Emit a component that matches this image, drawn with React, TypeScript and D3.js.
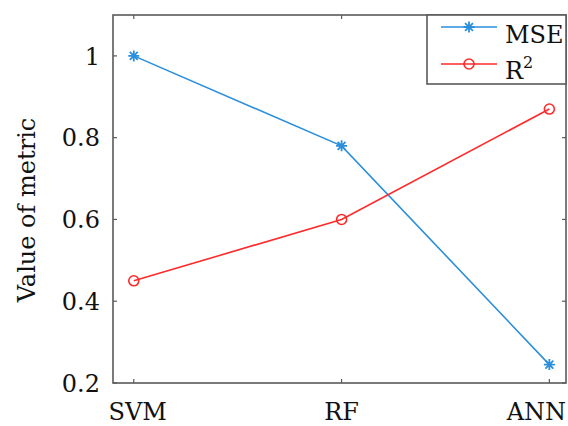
import React from "react";
import * as d3 from "d3";

const categories = ["SVM", "RF", "ANN"];
const mseValues = [1.0, 0.78, 0.245];
const r2Values = [0.45, 0.6, 0.87];
const yTicks = [0.2, 0.4, 0.6, 0.8, 1];
const yTickLabels = ["0.2", "0.4", "0.6", "0.8", "1"];

const W = 568;
const H = 426;
const left = 113;
const right = 566;
const top = 15;
const bottom = 383;
const FONT = '"DejaVu Serif", serif';
const BLUE = "#2b8fdc";
const RED = "#ff2a2a";
const AXIS = "#5a5a5a";

export default function App() {
  const x = d3.scaleLinear().domain([0.9, 3.08]).range([left, right]);
  const y = d3.scaleLinear().domain([0.2, 1.1]).range([bottom, top]);
  const line = d3
    .line<number>()
    .x((_, i) => x(i + 1))
    .y((d) => y(d));

  const star = (cx: number, cy: number, r: number) => {
    const d = r * 0.72;
    return `M${cx - r},${cy}L${cx + r},${cy}M${cx},${cy - r}L${cx},${cy + r}M${cx - d},${cy - d}L${cx + d},${cy + d}M${cx - d},${cy + d}L${cx + d},${cy - d}`;
  };

  const legX0 = 441;
  const legX1 = 497;
  const legMid = (legX0 + legX1) / 2;
  const legY1 = 27;
  const legY2 = 64;
  const fs = 24;

  return (
    <svg
      width={W}
      height={H}
      style={{ position: "absolute", left: 0, top: 0, background: "#fff", fontFamily: FONT }}
    >
      <rect x={0} y={0} width={W} height={H} fill="#fff" />
      <rect
        x={left}
        y={top}
        width={right - left}
        height={bottom - top}
        fill="none"
        stroke={AXIS}
        strokeWidth={1.6}
      />
      {yTicks.map((t, i) => (
        <g key={"yt" + i}>
          <line x1={left} x2={left + 4} y1={y(t)} y2={y(t)} stroke={AXIS} strokeWidth={1.2} />
          <line x1={right} x2={right - 4} y1={y(t)} y2={y(t)} stroke={AXIS} strokeWidth={1.2} />
          <text
            x={left - 13}
            y={y(t)}
            dy="0.36em"
            textAnchor="end"
            style={{ fontFamily: FONT, fontSize: fs }}
            fill="#111"
          >
            {yTickLabels[i]}
          </text>
        </g>
      ))}
      {categories.map((c, i) => (
        <g key={"xt" + i}>
          <line x1={x(i + 1)} x2={x(i + 1)} y1={bottom} y2={bottom - 4} stroke={AXIS} strokeWidth={1.2} />
          <line x1={x(i + 1)} x2={x(i + 1)} y1={top} y2={top + 4} stroke={AXIS} strokeWidth={1.2} />
          <text
            x={x(i + 1)}
            y={420}
            dx={i === categories.length - 1 ? -13 : i === 0 ? 4 : 0}
            textAnchor="middle"
            style={{ fontFamily: FONT, fontSize: fs }}
            fill="#111"
          >
            {c}
          </text>
        </g>
      ))}
      <text
        transform={`translate(35,210) rotate(-90)`}
        textAnchor="middle"
        style={{ fontFamily: FONT, fontSize: fs }}
        fill="#111"
      >
        Value of metric
      </text>
      <path d={line(mseValues) || ""} fill="none" stroke={BLUE} strokeWidth={1.6} />
      <path d={line(r2Values) || ""} fill="none" stroke={RED} strokeWidth={1.6} />
      {mseValues.map((v, i) => (
        <path key={"m" + i} d={star(x(i + 1), y(v), 5.5)} stroke={BLUE} strokeWidth={1.8} fill="none" />
      ))}
      {r2Values.map((v, i) => (
        <circle key={"r" + i} cx={x(i + 1)} cy={y(v)} r={5} stroke={RED} strokeWidth={1.6} fill="none" />
      ))}
      <rect x={427} y={top} width={right - 427} height={69} fill="#fff" stroke={AXIS} strokeWidth={1.6} />
      <line x1={legX0} x2={legX1} y1={legY1} y2={legY1} stroke={BLUE} strokeWidth={1.6} />
      <path d={star(legMid, legY1, 5.5)} stroke={BLUE} strokeWidth={1.8} fill="none" />
      <line x1={legX0} x2={legX1} y1={legY2} y2={legY2} stroke={RED} strokeWidth={1.6} />
      <circle cx={legMid} cy={legY2} r={5} stroke={RED} strokeWidth={1.6} fill="none" />
      <text x={505} y={legY1 + 16} style={{ fontFamily: FONT, fontSize: fs }} fill="#111">
        MSE
      </text>
      <text x={505} y={legY2 + 15} style={{ fontFamily: FONT, fontSize: fs }} fill="#111">
        R
        <tspan style={{ fontSize: 16 }} dy={-11}>
          2
        </tspan>
      </text>
    </svg>
  );
}
